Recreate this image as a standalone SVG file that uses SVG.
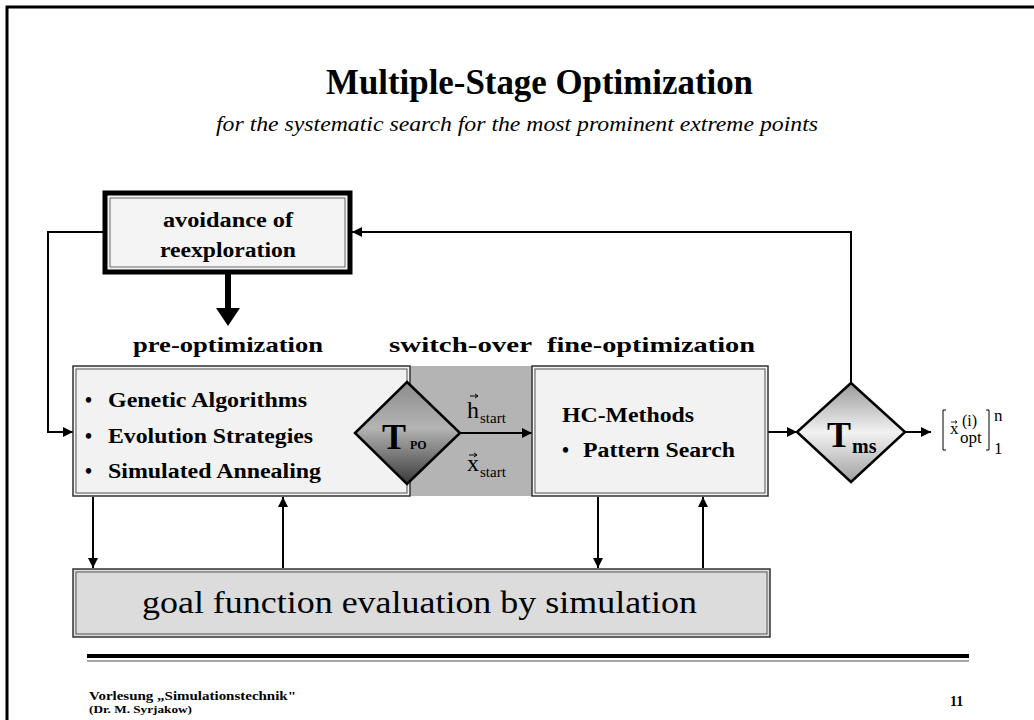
<svg xmlns="http://www.w3.org/2000/svg" width="1034" height="720" viewBox="0 0 1034 720">
<style>
.t{font-family:"Liberation Serif","Times New Roman",serif;fill:#000}
.b{font-weight:bold}
.ln{stroke:#000;stroke-width:2;fill:none}
</style>
<defs>
<marker id="ah" viewBox="0 0 10 10" refX="10" refY="5" markerWidth="5" markerHeight="5" orient="auto" markerUnits="strokeWidth"><path d="M0,0 L10,5 L0,10 z" fill="#000"/></marker>
<linearGradient id="gpo" x1="0" y1="0" x2="0" y2="1"><stop offset="0" stop-color="#8c8c8c"/><stop offset="0.45" stop-color="#b4b4b4"/><stop offset="1" stop-color="#3a3a3a"/></linearGradient>
<linearGradient id="gms" x1="0" y1="0" x2="0" y2="1"><stop offset="0" stop-color="#9a9a9a"/><stop offset="0.5" stop-color="#f2f2f2"/><stop offset="1" stop-color="#a0a0a0"/></linearGradient>
</defs>
<rect width="1034" height="720" fill="#fff"/>
<path d="M7,720 V7 H1034" fill="none" stroke="#000" stroke-width="3"/>

<text class="t b" x="326" y="94" font-size="35" textLength="427" lengthAdjust="spacingAndGlyphs">Multiple-Stage Optimization</text>
<text class="t" x="216" y="131" font-size="21" font-style="italic" textLength="602" lengthAdjust="spacingAndGlyphs">for the systematic search for the most prominent extreme points</text>

<g id="switch-area"><rect x="410" y="366" width="122" height="130" fill="#b4b4b4"/></g>

<g id="connectors">
<path class="ln" d="M105,232 H48 V432 H73" marker-end="url(#ah)"/>
<path class="ln" d="M851,383 V232 H352" marker-end="url(#ah)"/>
<line x1="228" y1="274" x2="228" y2="310" stroke="#000" stroke-width="6"/>
<polygon points="216,308 240,308 228,326" fill="#000"/>
<line class="ln" x1="460" y1="433" x2="532" y2="433" marker-end="url(#ah)" stroke-width="3"/>
<line class="ln" x1="768" y1="432" x2="797" y2="432" marker-end="url(#ah)"/>
<line class="ln" x1="905" y1="432" x2="931" y2="432" marker-end="url(#ah)"/>
<line class="ln" x1="93" y1="497" x2="93" y2="568" marker-end="url(#ah)"/>
<line class="ln" x1="283" y1="568" x2="283" y2="497" marker-end="url(#ah)"/>
<line class="ln" x1="598" y1="497" x2="598" y2="568" marker-end="url(#ah)"/>
<line class="ln" x1="703" y1="568" x2="703" y2="497" marker-end="url(#ah)"/>
</g>

<g id="avoidance">
<rect x="105" y="193" width="245" height="79" fill="#f4f4f4" stroke="#000" stroke-width="5"/>
<rect x="110" y="198" width="235" height="69" fill="none" stroke="#666" stroke-width="1"/>
<text class="t b" x="163" y="227" font-size="20" textLength="130" lengthAdjust="spacingAndGlyphs">avoidance of</text>
<text class="t b" x="160" y="257" font-size="20" textLength="136" lengthAdjust="spacingAndGlyphs">reexploration</text>
</g>

<g id="labels">
<text class="t b" x="133" y="352" font-size="22" textLength="190" lengthAdjust="spacingAndGlyphs">pre-optimization</text>
<text class="t b" x="389" y="352" font-size="22" textLength="143" lengthAdjust="spacingAndGlyphs">switch-over</text>
<text class="t b" x="547" y="352" font-size="22" textLength="208" lengthAdjust="spacingAndGlyphs">fine-optimization</text>
</g>

<g id="pre-opt">
<rect x="73" y="366" width="337" height="130" fill="#f2f2f2" stroke="#333" stroke-width="1.5"/>
<rect x="76" y="369" width="331" height="124" fill="none" stroke="#555" stroke-width="1"/>
<text class="t b" x="85" y="407" font-size="20">•</text>
<text class="t b" x="108" y="407" font-size="20" textLength="199" lengthAdjust="spacingAndGlyphs">Genetic Algorithms</text>
<text class="t b" x="85" y="443" font-size="20">•</text>
<text class="t b" x="108" y="443" font-size="20" textLength="205" lengthAdjust="spacingAndGlyphs">Evolution Strategies</text>
<text class="t b" x="85" y="478" font-size="20">•</text>
<text class="t b" x="108" y="478" font-size="20" textLength="213" lengthAdjust="spacingAndGlyphs">Simulated Annealing</text>
</g>

<g id="tpo">
<polygon points="407,382 460,433 407,484 355,433" fill="url(#gpo)" stroke="#000" stroke-width="2.5"/>
<text class="t b" x="382" y="449" font-size="36">T</text>
<text class="t b" x="410" y="449" font-size="12">PO</text>
</g>

<g id="switch-labels">
<text class="t" x="467" y="418" font-size="24">h</text>
<path d="M470,396 h8 m-3,-2 l3,2 l-3,2" stroke="#000" stroke-width="1" fill="none"/>
<text class="t" x="480" y="423" font-size="15">start</text>
<text class="t" x="467" y="471" font-size="24">x</text>
<path d="M469,455 h8 m-3,-2 l3,2 l-3,2" stroke="#000" stroke-width="1" fill="none"/>
<text class="t" x="480" y="477" font-size="15">start</text>
</g>

<g id="fine-opt">
<rect x="532" y="366" width="236" height="130" fill="#f2f2f2" stroke="#333" stroke-width="1.5"/>
<rect x="535" y="369" width="230" height="124" fill="none" stroke="#555" stroke-width="1"/>
<text class="t b" x="562" y="422" font-size="20" textLength="132" lengthAdjust="spacingAndGlyphs">HC-Methods</text>
<text class="t b" x="562" y="457" font-size="20">•</text>
<text class="t b" x="583" y="457" font-size="20" textLength="152" lengthAdjust="spacingAndGlyphs">Pattern Search</text>
</g>

<g id="tms">
<polygon points="851,383 905,432 851,482 797,432" fill="url(#gms)" stroke="#000" stroke-width="2.5"/>
<text class="t b" x="827" y="447" font-size="36">T</text>
<text class="t b" x="852" y="453" font-size="20">ms</text>
</g>

<g id="result">
<path d="M946,410 h-3 v40 h3 M986,410 h3 v40 h-3" stroke="#000" stroke-width="1" fill="none"/>
<text class="t" x="950" y="434" font-size="17">x</text>
<path d="M951,422 h6 m-2,-1.5 l2,1.5 l-2,1.5" stroke="#000" stroke-width="0.8" fill="none"/>
<text class="t" x="962" y="426" font-size="16">(i)</text>
<text class="t" x="960" y="443" font-size="17">opt</text>
<text class="t" x="994" y="421" font-size="17">n</text>
<text class="t" x="994" y="454" font-size="17">1</text>
</g>

<g id="goal">
<rect x="73" y="569" width="697" height="68" fill="#dcdcdc" stroke="#333" stroke-width="1.5"/>
<rect x="76" y="572" width="691" height="62" fill="none" stroke="#555" stroke-width="1"/>
<text class="t" x="142" y="613" font-size="32" textLength="555" lengthAdjust="spacingAndGlyphs">goal function evaluation by simulation</text>
</g>

<g id="footer">
<line x1="87" y1="656" x2="969" y2="656" stroke="#000" stroke-width="4"/>
<line x1="87" y1="661" x2="969" y2="661" stroke="#888" stroke-width="1.5"/>
<text class="t b" x="89" y="700" font-size="13" textLength="207" lengthAdjust="spacingAndGlyphs">Vorlesung „Simulationstechnik"</text>
<text class="t b" x="89" y="713" font-size="10" textLength="103" lengthAdjust="spacingAndGlyphs">(Dr. M. Syrjakow)</text>
<text class="t b" x="950" y="706" font-size="14">11</text>
</g>
</svg>
